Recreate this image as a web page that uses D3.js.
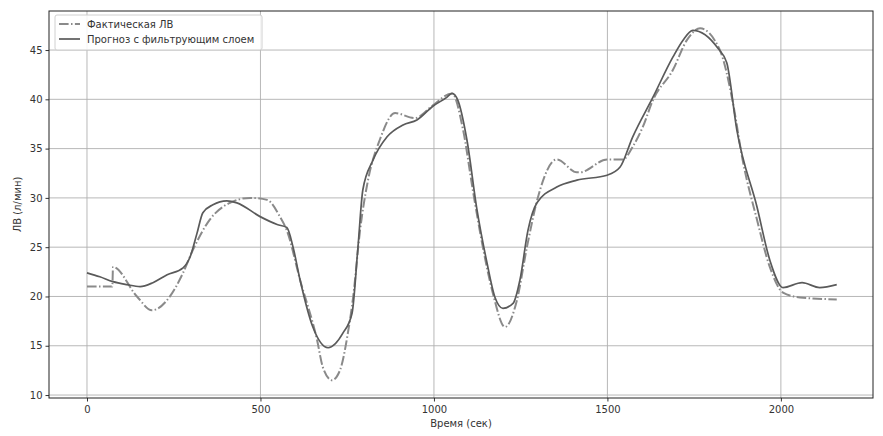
<!DOCTYPE html>
<html><head><meta charset="utf-8">
<script src="https://cdn.jsdelivr.net/npm/d3@7"></script>
<style>body{margin:0;background:#fff;} text{font-family:"DejaVu Sans",sans-serif;}</style>
</head><body><svg id="c" width="883" height="436"></svg>
<script>
const actualTime = [0,73,75,144,187,239,277,305,354,412,470,519,556,576,614,663,680,706,729,752,767,787,810,844,888,945,997,1052,1084,1112,1141,1170,1205,1239,1268,1300,1354,1412,1421,1499,1545,1573,1602,1631,1689,1729,1767,1824,1862,1890,1931,1968,2006,2055,2161];
const actualValues = [21.0,21.0,23.0,20.0,18.6,20.0,22.4,24.7,27.8,29.5,30.0,29.8,28.1,26.7,21.7,15.6,12.8,11.5,12.5,16.3,19.9,26.7,31.8,35.9,38.6,38.1,39.4,40.6,36.9,30.8,25.0,20.3,16.9,19.6,25.0,30.1,33.9,32.6,32.6,33.9,33.9,35.2,37.2,39.9,43.0,46.0,47.2,45.0,39.6,33.8,27.8,23.0,20.4,19.9,19.7];
const forecastTime = [0,37,75,115,153,190,231,277,297,317,334,363,403,432,499,548,576,594,614,651,695,738,764,781,795,824,865,911,951,997,1037,1052,1069,1095,1124,1153,1176,1199,1228,1248,1271,1297,1354,1412,1499,1536,1573,1631,1689,1718,1746,1818,1844,1873,1931,1968,2006,2061,2112,2161];
const forecastValues = [22.4,22.0,21.5,21.2,21.0,21.4,22.2,22.9,24.0,26.4,28.5,29.3,29.7,29.5,28.1,27.3,27.0,25.0,21.7,16.9,14.8,16.3,18.3,25.0,30.8,33.8,36.2,37.4,37.9,39.3,40.2,40.6,39.9,35.9,28.8,23.4,19.9,18.8,19.3,21.7,26.7,29.5,31.1,31.8,32.3,33.1,36.2,40.2,44.3,46.0,47.0,45.2,43.7,36.9,29.1,23.7,20.9,21.4,20.9,21.2];
const xTicks = [0,500,1000,1500,2000];
const yTicks = [10,15,20,25,30,35,40,45];
const seriesNames = ["Фактическая ЛВ","Прогноз с фильтрующим слоем"];

const svg = d3.select("#c");
const L=49,R=873,T=11,B=398;
const x = d3.scaleLinear().domain([-109.5,2265.5]).range([L,R]);
const y = d3.scaleLinear().domain([9.70,48.96]).range([B,T]);

// grid
const g = svg.append("g");
g.selectAll(".vx").data(xTicks).enter().append("line")
 .attr("x1",d=>x(d)).attr("x2",d=>x(d)).attr("y1",T).attr("y2",B)
 .attr("stroke","#b0b0b0").attr("stroke-width",0.9);
g.selectAll(".hy").data(yTicks).enter().append("line")
 .attr("y1",d=>y(d)).attr("y2",d=>y(d)).attr("x1",L).attr("x2",R)
 .attr("stroke","#b0b0b0").attr("stroke-width",0.9);

svg.append("clipPath").attr("id","cp").append("rect").attr("x",L).attr("y",T).attr("width",R-L).attr("height",B-T);

const line = d3.line().x(d=>x(d[0])).y(d=>y(d[1])).curve(d3.curveMonotoneX);
const actual = actualTime.map((t,i)=>[t,actualValues[i]]);
const forecast = forecastTime.map((t,i)=>[t,forecastValues[i]]);

svg.append("path").datum(actual).attr("d",line).attr("fill","none")
 .attr("stroke","#8a8a8a").attr("stroke-width",2).attr("stroke-dasharray","9.6,2.4,1.5,2.4").attr("clip-path","url(#cp)");
svg.append("path").datum(forecast).attr("d",line).attr("fill","none")
 .attr("stroke","#5a5a5a").attr("stroke-width",1.7).attr("clip-path","url(#cp)");

// axes
const xa = svg.append("g").attr("transform",`translate(0,${B})`)
 .call(d3.axisBottom(x).tickValues(xTicks).tickSize(3.5).tickPadding(4).tickFormat(d3.format("d")));
const ya = svg.append("g").attr("transform",`translate(${L},0)`)
 .call(d3.axisLeft(y).tickValues(yTicks).tickSize(3.5).tickPadding(3).tickFormat(d3.format("d")));
[xa,ya].forEach(a=>{a.select(".domain").remove();a.selectAll("text").attr("font-size",10).attr("fill","#333").attr("font-family","DejaVu Sans");a.selectAll("line").attr("stroke","#333");});

svg.append("rect").attr("x",L).attr("y",T).attr("width",R-L).attr("height",B-T)
 .attr("fill","none").attr("stroke","#222").attr("stroke-width",1);

svg.append("text").attr("x",(L+R)/2).attr("y",427).attr("text-anchor","middle")
 .attr("font-size",10).attr("fill","#333").text("Время (сек)");
svg.append("text").attr("transform",`translate(21,${(T+B)/2}) rotate(-90)`).attr("text-anchor","middle")
 .attr("font-size",10).attr("fill","#333").text("ЛВ (л/мин)");

// legend
const lg = svg.append("g");
lg.append("rect").attr("x",55).attr("y",15).attr("width",207).attr("height",35).attr("rx",2)
 .attr("fill","#fff").attr("fill-opacity",0.85).attr("stroke","#d0d0d0");
const styles=[{c:"#8a8a8a",w:2,da:"9.6,2.4,1.5,2.4"},{c:"#5a5a5a",w:1.7,da:null}];
seriesNames.forEach((n,i)=>{
  const yy = 24+i*15;
  lg.append("line").attr("x1",59).attr("x2",80).attr("y1",yy).attr("y2",yy)
    .attr("stroke",styles[i].c).attr("stroke-width",styles[i].w).attr("stroke-dasharray",styles[i].da);
  lg.append("text").attr("x",87).attr("y",yy+3.5).attr("font-size",10).attr("fill","#333").text(n);
});
</script></body></html>
